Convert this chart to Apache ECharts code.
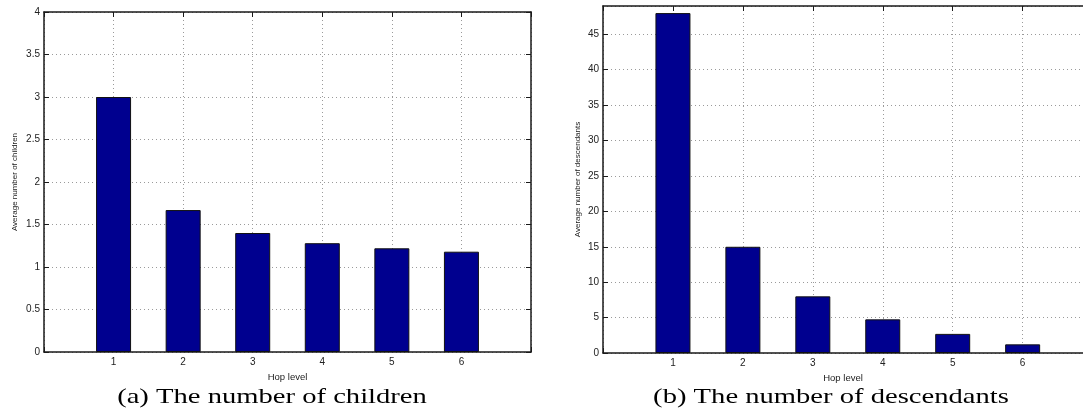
<!DOCTYPE html>
<html>
<head>
<meta charset="utf-8">
<script src="https://cdn.jsdelivr.net/npm/echarts@6/dist/echarts.min.js"></script>
<style>
html,body{margin:0;padding:0;background:#fff;}
#chart{width:1083px;height:419px;}
</style>
</head>
<body>
<div id="chart"></div>
<script>
const hopLevels = [1, 2, 3, 4, 5, 6];
const avgChildren = [3.0, 1.67, 1.40, 1.28, 1.22, 1.18];
const avgDescendants = [48, 15, 8, 4.75, 2.7, 1.22];
const childrenTicks = [0, 0.5, 1, 1.5, 2, 2.5, 3, 3.5, 4];
const descendantTicks = [0, 5, 10, 15, 20, 25, 30, 35, 40, 45];
const xTicks = [0, 1, 2, 3, 4, 5, 6, 7];
const captions = ['(a) The number of children', '(b) The number of descendants'];
const xName = 'Hop level';
const yNames = ['Average number of children', 'Average number of descendants'];

const sans = 'Liberation Sans';
const axisColor = '#1a1a1a';
const gridLineStyle = { color: '#9a9a9a', width: 1, type: [1, 3] };

function xAxes(gridIndex, xMax) {
  const ticks = xTicks.filter(t => t <= xMax);
  return [
    {
      type: 'value', gridIndex: gridIndex, position: 'bottom',
      min: 0, max: xMax, interval: 1,
      name: xName, nameLocation: 'middle', nameGap: 16,
      nameTextStyle: { fontFamily: sans, fontSize: 9.5, color: '#222' },
      axisLine: { show: true, onZero: false, lineStyle: { color: axisColor, width: 1.5 } },
      axisTick: { show: true, inside: true, length: 5, customValues: ticks, lineStyle: { color: axisColor } },
      axisLabel: {
        margin: 5, fontFamily: sans, fontSize: 10, color: '#222',
        customValues: hopLevels,
        formatter: v => hopLevels.includes(v) ? String(v) : ''
      },
      splitLine: { show: true, lineStyle: gridLineStyle }
    },
    {
      type: 'value', gridIndex: gridIndex, position: 'top',
      min: 0, max: xMax, interval: 1,
      axisLine: { show: true, onZero: false, lineStyle: { color: axisColor, width: 1.5 } },
      axisTick: { show: true, inside: true, length: 5, customValues: ticks, lineStyle: { color: axisColor } },
      axisLabel: { show: false },
      splitLine: { show: false }
    }
  ];
}

function yAxes(gridIndex, ticks, yMax, name, nameGap, showRight) {
  const step = ticks[1] - ticks[0];
  return [
    {
      type: 'value', gridIndex: gridIndex, position: 'left',
      min: 0, max: yMax, interval: step,
      name: name, nameLocation: 'middle', nameGap: nameGap, nameRotate: 90,
      nameTextStyle: { fontFamily: sans, fontSize: 8, color: '#222' },
      axisLine: { show: true, onZero: false, lineStyle: { color: axisColor, width: 1.5 } },
      axisTick: { show: true, inside: true, length: 5, lineStyle: { color: axisColor } },
      axisLabel: {
        margin: 4, fontFamily: sans, fontSize: 10, color: '#222',
        showMaxLabel: ticks.includes(yMax),
        formatter: v => ticks.includes(v) ? String(v) : ''
      },
      splitLine: { show: true, lineStyle: gridLineStyle }
    },
    {
      type: 'value', gridIndex: gridIndex, position: 'right',
      min: 0, max: yMax, interval: step,
      axisLine: { show: showRight, onZero: false, lineStyle: { color: axisColor, width: 1.5 } },
      axisTick: { show: showRight, inside: true, length: 5, lineStyle: { color: axisColor } },
      axisLabel: { show: false },
      splitLine: { show: false }
    }
  ];
}

const barStyle = { color: '#00008f', borderColor: '#111', borderWidth: 1 };
const captionFont = '22px "Liberation Serif"';

const option = {
  animation: false,
  backgroundColor: '#ffffff',
  grid: [
    { left: 44, top: 12, width: 487, height: 340 },
    { left: 603, top: 6, width: 480, height: 347 }
  ],
  xAxis: [...xAxes(0, 7), ...xAxes(1, 6.863)],
  yAxis: [
    ...yAxes(0, childrenTicks, 4, yNames[0], 25, true),
    ...yAxes(1, descendantTicks, 49, yNames[1], 21, false)
  ],
  graphic: [
    { type: 'text', x: 272, y: 397, scaleX: 1.3,
      style: { text: captions[0], font: captionFont, fill: '#000', align: 'center', verticalAlign: 'middle' } },
    { type: 'text', x: 831, y: 397, scaleX: 1.3,
      style: { text: captions[1], font: captionFont, fill: '#000', align: 'center', verticalAlign: 'middle' } }
  ],
  series: [
    { type: 'bar', xAxisIndex: 0, yAxisIndex: 0, barWidth: 35,
      itemStyle: barStyle,
      data: hopLevels.map((h, i) => [h, avgChildren[i]]) },
    { type: 'bar', xAxisIndex: 2, yAxisIndex: 2, barWidth: 35,
      itemStyle: barStyle,
      data: hopLevels.map((h, i) => [h, avgDescendants[i]]) }
  ]
};

const chart = echarts.init(document.getElementById('chart'), null, { renderer: 'canvas' });
chart.setOption(option);
</script>
</body>
</html>
